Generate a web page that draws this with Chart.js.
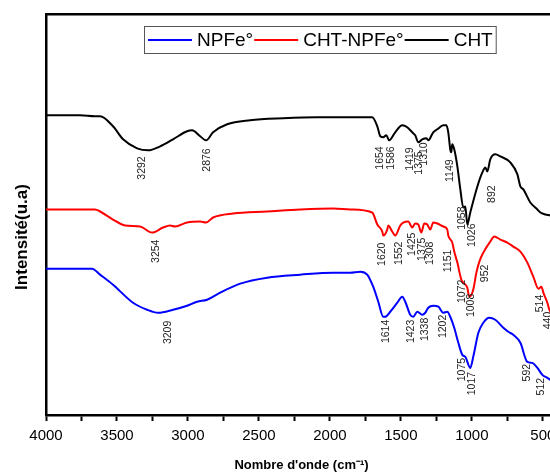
<!DOCTYPE html>
<html>
<head>
<meta charset="utf-8">
<script src="https://cdn.jsdelivr.net/npm/chart.js@4.4.1/dist/chart.umd.min.js"></script>
<style>
  html, body { margin: 0; padding: 0; background: #fff; overflow: hidden; }
  #wrap { width: 550px; height: 473px; overflow: hidden; }
</style>
</head>
<body>
<div id="wrap"><canvas id="myChart" width="557" height="473"></canvas></div>
<script>
// tick labels of the wavenumber axis
var xMajor = [4000, 3500, 3000, 2500, 2000, 1500, 1000, 500];
var xMinor = [3750, 3250, 2750, 2250, 1750, 1250, 750];

// CHT (black)
var chtWn  = [4000,3760,3655,3619,3528,3457,3358,3281,3196,3105,3006,2971,2914,2872,2823,2724,2562,2329,2089,1857,1702,1666,1645,1624,1603,1582,1540,1490,1455,1420,1399,1377,1349,1321,1307,1272,1243,1201,1180,1166,1152,1145,1138,1124,1102,1081,1060,1046,1032,1011,961,926,905,891,870,835,799,729,679,658,637,588,538,517,482,447,400];
var chtInt = [299,299,298,298,288,275,266,264,268,275,283,284,278,274,282,290,294,296,297,297,297,288,278,277,279,274,282,289,287,282,279,272,275,276,274,282,285,289,289,282,265,262,270,265,248,225,207,208,190,202,228,242,247,243,255,260,258,252,240,228,225,212,205,202,200,199,197];

// CHT-NPFe° (red)
var cplxWn  = [4000,3760,3655,3619,3528,3443,3337,3253,3175,3126,3091,3006,2914,2872,2823,2682,2442,2209,1977,1857,1702,1666,1631,1624,1596,1589,1561,1540,1504,1483,1448,1420,1399,1377,1356,1335,1314,1293,1272,1243,1201,1173,1166,1138,1124,1102,1074,1060,1032,1018,990,968,947,919,870,842,799,750,708,658,609,567,531,510,496,468,454,400];
var cplxInt = [205,205,205,203,195,189,188,182,187,189,188,192,193,192,197,201,203,205,206,205,202,190,183,179,185,189,183,179,189,192,193,187,191,190,182,191,190,185,192,191,188,185,179,172,163,152,135,132,127,118,125,142,153,162,173,178,175,172,168,163,152,138,126,128,122,112,105,92];

// NPFe° (blue)
var npWn  = [4000,3760,3676,3619,3528,3387,3288,3210,3105,3006,2935,2865,2773,2632,2442,2209,1977,1857,1786,1737,1695,1659,1624,1610,1575,1525,1490,1469,1434,1413,1384,1349,1328,1307,1272,1236,1201,1173,1152,1124,1095,1067,1046,1011,990,954,919,877,835,778,743,708,658,609,574,538,503,468,447,400];
var npInt = [146,146,146,140,130,112,105,102,105,109,113,115,122,131,137,140,142,142,143,140,128,113,98,98,103,112,118,113,100,98,103,100,102,107,109,108,102,103,98,87,72,60,58,47,58,82,92,97,95,87,83,80,72,53,52,47,40,37,35,30];

// peak labels: text, wavenumber where it sits, intensity of its upper end
var chtPeaks  = ['3292','2876','1654','1586','1419','1375','1310','1149','1058','1026','892'];
var chtPeakX  = [3323,2865,1645,1568,1434,1370,1335,1152,1067,997,856];
var chtPeakY  = [258,266,268,268,267,263,272,255,208,191,229];
var cplxPeaks = ['3254','1620','1552','1425','1375','1308','1151','1072','1008','952','514','440'];
var cplxPeakX = [3225,1631,1511,1420,1349,1293,1166,1067,1004,905,517,461];
var cplxPeakY = [175,172,173,182,177,173,165,135,121,150,120,103];
var npPeaks   = ['3209','1614','1423','1338','1202','1075','1017','592','512'];
var npPeakX   = [3140,1603,1427,1328,1201,1067,997,609,510];
var npPeakY   = [94,95,95,97,100,57,43,51,37];

var FONT = '"Liberation Sans", Arial, sans-serif';

function toPoints(wn, val) {
    var pts = [];
    for (var i = 0; i < wn.length; i++) pts.push({x: wn[i], y: val[i]});
    return pts;
}

var peakLabels = {
    id: 'peakLabels',
    afterDatasetsDraw: function(chart) {
        var ctx = chart.ctx, xs = chart.scales.x, ys = chart.scales.y;
        var groups = [[chtPeaks, chtPeakX, chtPeakY], [cplxPeaks, cplxPeakX, cplxPeakY], [npPeaks, npPeakX, npPeakY]];
        ctx.save();
        ctx.font = '10.5px ' + FONT;
        ctx.fillStyle = '#222';
        ctx.textAlign = 'right';
        ctx.textBaseline = 'middle';
        groups.forEach(function(g) {
            for (var i = 0; i < g[0].length; i++) {
                ctx.save();
                ctx.translate(xs.getPixelForValue(g[1][i]), ys.getPixelForValue(g[2][i]));
                ctx.rotate(-Math.PI / 2);
                ctx.fillText(g[0][i], 0, 0);
                ctx.restore();
            }
        });
        ctx.restore();
    }
};

var legendBox = {
    id: 'legendBox',
    afterDraw: function(chart) {
        var ctx = chart.ctx;
        var x0 = 144, x = 148, y = 40;
        ctx.save();
        ctx.font = '19px ' + FONT;
        ctx.textBaseline = 'middle';
        chart.data.datasets.forEach(function(ds) {
            ctx.strokeStyle = ds.borderColor;
            ctx.lineWidth = 2;
            ctx.beginPath();
            ctx.moveTo(x, y);
            ctx.lineTo(x + 44, y);
            ctx.stroke();
            x += 49;
            ctx.fillStyle = '#000';
            ctx.fillText(ds.label, x, y + 1);
            x += ctx.measureText(ds.label).width + 1;
        });
        ctx.strokeStyle = '#555';
        ctx.lineWidth = 1;
        ctx.strokeRect(x0 + 0.5, 26.5, x - x0 + 2, 27);
        ctx.restore();
    }
};

var yTitle = {
    id: 'yTitle',
    afterDraw: function(chart) {
        var ctx = chart.ctx;
        ctx.save();
        ctx.font = 'bold 17px ' + FONT;
        ctx.fillStyle = '#000';
        ctx.textAlign = 'center';
        ctx.textBaseline = 'middle';
        ctx.translate(22, 237);
        ctx.rotate(-Math.PI / 2);
        ctx.fillText('Intensité(u.a)', 0, 0);
        ctx.restore();
    }
};

new Chart(document.getElementById('myChart'), {
    type: 'line',
    data: {
        datasets: [{
            label: 'NPFe°',
            data: toPoints(npWn, npInt),
            borderColor: '#0000ff',
            borderWidth: 2,
            pointRadius: 0,
            cubicInterpolationMode: 'monotone'
        }, {
            label: 'CHT-NPFe°',
            data: toPoints(cplxWn, cplxInt),
            borderColor: '#ff0000',
            borderWidth: 2,
            pointRadius: 0,
            cubicInterpolationMode: 'monotone'
        }, {
            label: 'CHT',
            data: toPoints(chtWn, chtInt),
            borderColor: '#000000',
            borderWidth: 2,
            pointRadius: 0,
            cubicInterpolationMode: 'monotone'
        }]
    },
    options: {
        responsive: false,
        animation: false,
        devicePixelRatio: 1,
        layout: { padding: 0 },
        plugins: { legend: { display: false }, tooltip: { enabled: false } },
        scales: {
            x: {
                type: 'linear',
                position: 'bottom',
                reverse: true,
                min: 400,
                max: 4000,
                afterFit: function(s) { s.height = 58; },
                afterBuildTicks: function(s) {
                    s.ticks = xMajor.concat(xMinor).map(function(v) { return {value: v}; });
                },
                ticks: {
                    autoSkip: false,
                    maxRotation: 0,
                    padding: 6,
                    color: '#000',
                    font: { family: FONT, size: 15 },
                    callback: function(v) { return xMajor.indexOf(v) >= 0 ? String(v) : ''; }
                },
                grid: { drawOnChartArea: false, tickLength: 6, tickWidth: 2, tickColor: '#000' },
                border: { color: '#000', width: 2.5 },
                title: {
                    display: true,
                    text: "Nombre d'onde (cm⁻¹)",
                    color: '#000',
                    font: { family: FONT, size: 13, weight: 'bold' },
                    padding: { top: 0, bottom: 0 }
                }
            },
            xTop: {
                type: 'linear',
                position: 'top',
                reverse: true,
                min: 400,
                max: 4000,
                afterFit: function(s) { s.height = 14; },
                ticks: { display: false },
                grid: { display: false, drawTicks: false },
                border: { display: true, color: '#000', width: 2.5 }
            },
            y: {
                min: 0,
                max: 400,
                afterFit: function(s) { s.width = 46; },
                ticks: { display: false },
                grid: { display: false, drawTicks: false },
                border: { color: '#000', width: 2.5 }
            }
        }
    },
    plugins: [peakLabels, legendBox, yTitle]
});
</script>
</body>
</html>
